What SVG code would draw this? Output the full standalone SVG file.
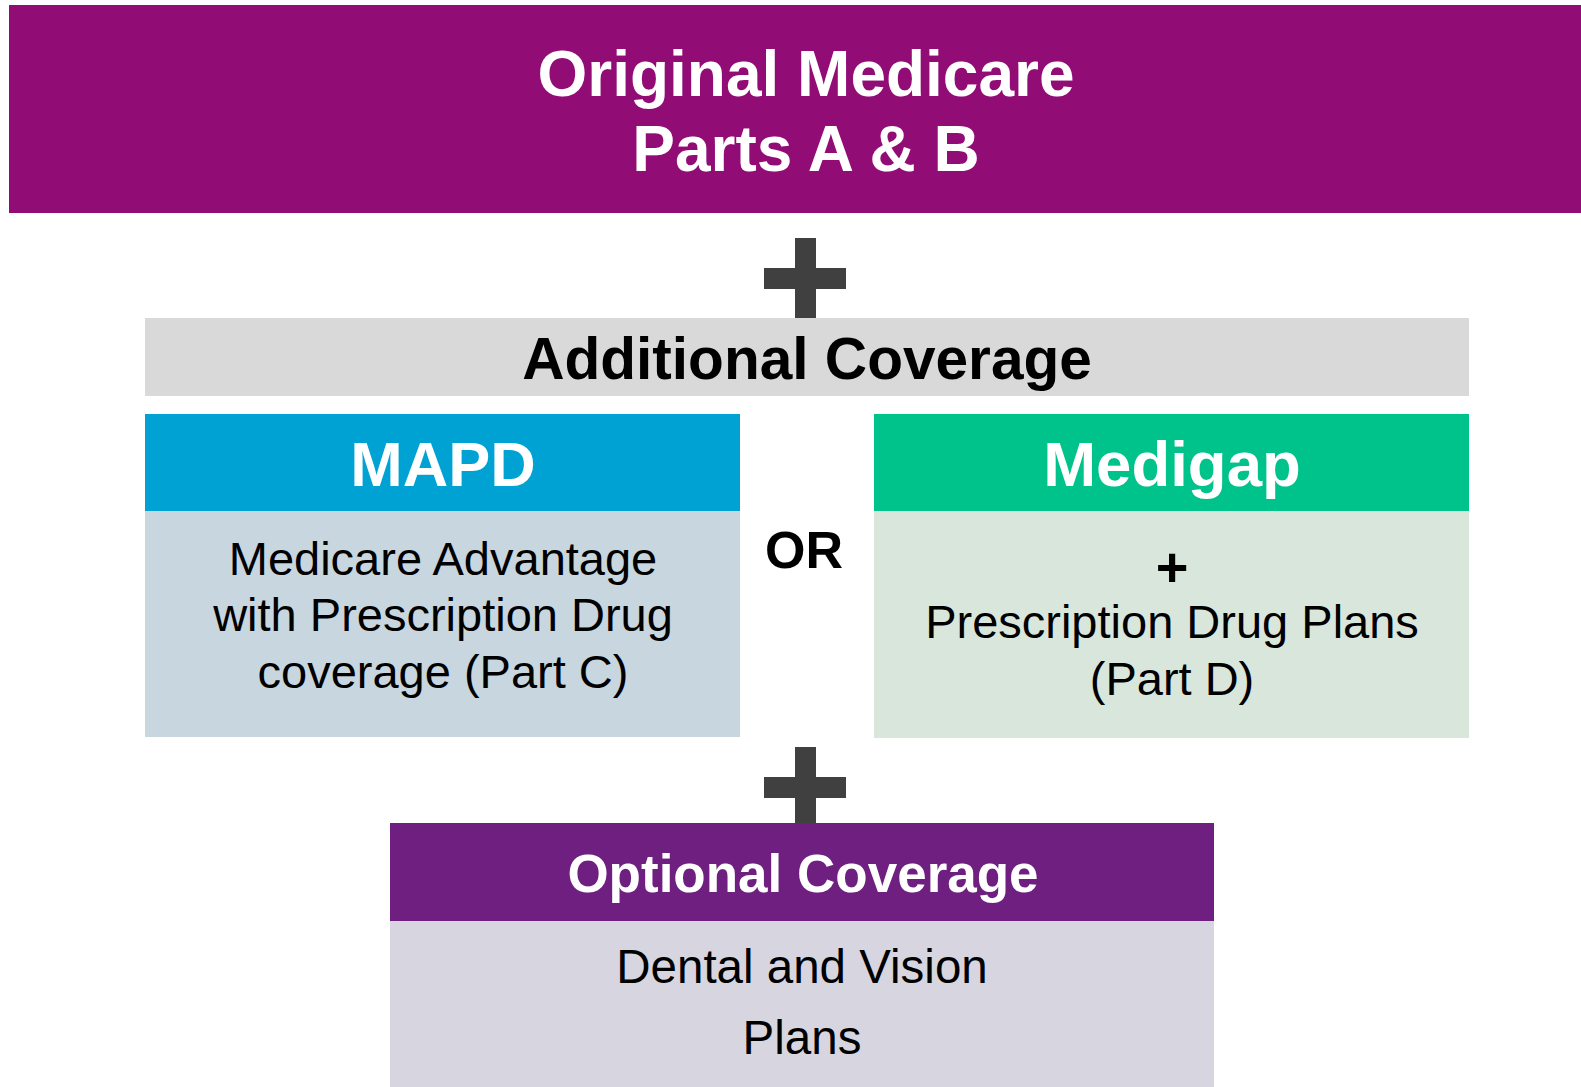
<svg xmlns="http://www.w3.org/2000/svg" width="1581" height="1087" viewBox="0 0 1581 1087">
<style>
text{font-family:"Liberation Sans",Arial,sans-serif;text-anchor:middle}
.b{font-weight:bold}
.w{fill:#FFFFFF}
.k{fill:#000000}
.plus{fill:#404040}
</style>
<rect width="1581" height="1087" fill="#FFFFFF"/>
<g id="original-medicare">
<rect x="9" y="5" width="1572" height="208" fill="#920C76"/>
<text class="b w" x="806" y="96" font-size="64">Original Medicare</text>
<text class="b w" x="806" y="171" font-size="64">Parts A &amp; B</text>
</g>
<g id="connectors">
<g id="plus-top" class="plus">
<rect x="795" y="238" width="21" height="80"/>
<rect x="764" y="268" width="82" height="21"/>
</g>
<g id="plus-bottom" class="plus">
<rect x="795" y="747" width="21" height="76"/>
<rect x="764" y="777" width="82" height="21"/>
</g>
</g>
<g id="additional-coverage">
<rect x="145" y="318" width="1324" height="78" fill="#D9D9D9"/>
<text class="b k" x="807" y="379" font-size="58.6">Additional Coverage</text>
</g>
<g id="mapd">
<rect x="145" y="414" width="595" height="97" fill="#00A2D3"/>
<rect x="145" y="511" width="595" height="226" fill="#C8D6DF"/>
<text class="b w" x="443" y="486" font-size="63">MAPD</text>
<text class="k" x="443" y="575" font-size="47">Medicare Advantage</text>
<text class="k" x="443" y="631" font-size="47">with Prescription Drug</text>
<text class="k" x="443" y="688" font-size="47">coverage (Part C)</text>
</g>
<g id="or">
<text class="b k" x="804" y="568" font-size="52">OR</text>
</g>
<g id="medigap">
<rect x="874" y="414" width="595" height="97" fill="#00C28B"/>
<rect x="874" y="511" width="595" height="227" fill="#D9E6DC"/>
<text class="b w" x="1172" y="486" font-size="63.5">Medigap</text>
<text class="b k" x="1172" y="586" font-size="56">+</text>
<text class="k" x="1172" y="638" font-size="47">Prescription Drug Plans</text>
<text class="k" x="1172" y="695" font-size="47">(Part D)</text>
</g>
<g id="optional-coverage">
<rect x="390" y="823" width="824" height="98" fill="#6E1F80"/>
<rect x="390" y="921" width="824" height="166" fill="#D7D6E0"/>
<text class="b w" x="803" y="892" font-size="53">Optional Coverage</text>
<text class="k" x="802" y="983" font-size="47.5">Dental and Vision</text>
<text class="k" x="802" y="1054" font-size="47.5">Plans</text>
</g>
</svg>
